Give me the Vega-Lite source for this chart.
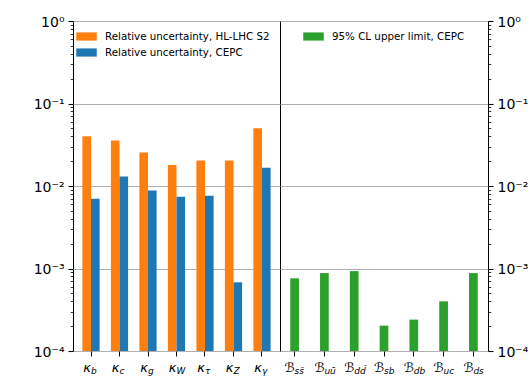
{
  "$schema": "https://vega.github.io/schema/vega-lite/v6.json",
  "autosize": {"type": "pad"},
  "padding": {"left": 32, "top": 14, "right": 0, "bottom": 0},
  "background": "white",
  "spacing": 0,
  "bounds": "flush",
  "config": {
    "font": "DejaVu Sans",
    "view": {"stroke": "black", "strokeWidth": 1},
    "axis": {"labelFont": "DejaVu Sans", "labelColor": "black", "tickColor": "black", "domain": false},
    "legend": {"labelFont": "DejaVu Sans", "labelFontSize": 10.3, "labelColor": "black", "labelLimit": 0, "symbolType": "M-1,-0.4H1V0.4H-1Z", "symbolSize": 420, "symbolStrokeWidth": 0, "symbolOpacity": 1, "padding": 0, "rowPadding": -1.3, "labelOffset": 8, "orient": "none"}
  },
  "datasets": {
    "kappa": [
      {"name": "κ_b", "main": "κ", "sub": "b", "series": "Relative uncertainty, HL-LHC S2", "value": 0.04},
      {"name": "κ_b", "main": "κ", "sub": "b", "series": "Relative uncertainty, CEPC", "value": 0.0070},
      {"name": "κ_c", "main": "κ", "sub": "c", "series": "Relative uncertainty, HL-LHC S2", "value": 0.0355},
      {"name": "κ_c", "main": "κ", "sub": "c", "series": "Relative uncertainty, CEPC", "value": 0.013},
      {"name": "κ_g", "main": "κ", "sub": "g", "series": "Relative uncertainty, HL-LHC S2", "value": 0.0255},
      {"name": "κ_g", "main": "κ", "sub": "g", "series": "Relative uncertainty, CEPC", "value": 0.0088},
      {"name": "κ_W", "main": "κ", "sub": "W", "series": "Relative uncertainty, HL-LHC S2", "value": 0.018},
      {"name": "κ_W", "main": "κ", "sub": "W", "series": "Relative uncertainty, CEPC", "value": 0.0074},
      {"name": "κ_τ", "main": "κ", "sub": "τ", "series": "Relative uncertainty, HL-LHC S2", "value": 0.0204},
      {"name": "κ_τ", "main": "κ", "sub": "τ", "series": "Relative uncertainty, CEPC", "value": 0.0076},
      {"name": "κ_Z", "main": "κ", "sub": "Z", "series": "Relative uncertainty, HL-LHC S2", "value": 0.0204},
      {"name": "κ_Z", "main": "κ", "sub": "Z", "series": "Relative uncertainty, CEPC", "value": 0.00068},
      {"name": "κ_γ", "main": "κ", "sub": "γ", "series": "Relative uncertainty, HL-LHC S2", "value": 0.05},
      {"name": "κ_γ", "main": "κ", "sub": "γ", "series": "Relative uncertainty, CEPC", "value": 0.0167}
    ],
    "branching": [
      {"name": "B_ss", "main": "ℬ", "sub": "ss\u0304", "series": "95% CL upper limit, CEPC", "value": 0.00076},
      {"name": "B_uu", "main": "ℬ", "sub": "uu\u0304", "series": "95% CL upper limit, CEPC", "value": 0.00088},
      {"name": "B_dd", "main": "ℬ", "sub": "dd\u0304", "series": "95% CL upper limit, CEPC", "value": 0.00093},
      {"name": "B_sb", "main": "ℬ", "sub": "sb", "series": "95% CL upper limit, CEPC", "value": 0.000203},
      {"name": "B_db", "main": "ℬ", "sub": "db", "series": "95% CL upper limit, CEPC", "value": 0.00024},
      {"name": "B_uc", "main": "ℬ", "sub": "uc", "series": "95% CL upper limit, CEPC", "value": 0.0004},
      {"name": "B_ds", "main": "ℬ", "sub": "ds", "series": "95% CL upper limit, CEPC", "value": 0.00088}
    ]
  },
  "resolve": {"scale": {"color": "independent"}, "legend": {"color": "independent"}},
  "hconcat": [
    {
      "width": 207,
      "height": 330,
      "data": {"name": "kappa"},
      "layer": [
        {
          "mark": {"type": "bar"},
          "encoding": {
            "x": {"field": "name", "type": "nominal", "sort": null,
                  "scale": {"type": "band", "paddingInner": 0.396, "paddingOuter": 0.33},
                  "axis": {"title": null, "labels": false, "domain": false, "ticks": true, "tickSize": 5, "tickWidth": 1, "grid": false}},
            "xOffset": {"field": "series", "type": "nominal", "sort": ["Relative uncertainty, HL-LHC S2", "Relative uncertainty, CEPC"]},
            "y": {"field": "value", "type": "quantitative",
                  "scale": {"type": "log", "domain": [0.0001, 1], "nice": false},
                  "axis": {"orient": "left", "title": null,
                           "values": [0.0001,0.0002,0.0003,0.0004,0.0005,0.0006,0.0007,0.0008,0.0009,0.001,0.002,0.003,0.004,0.005,0.006,0.007,0.008,0.009,0.01,0.02,0.03,0.04,0.05,0.06,0.07,0.08,0.09,0.1,0.2,0.3,0.4,0.5,0.6,0.7,0.8,0.9,1],
                           "labelExpr": "abs(log(datum.value)/LN10 - round(log(datum.value)/LN10)) < 0.001 ? ['10⁻⁴','10⁻³','10⁻²','10⁻¹','10⁰'][round(log(datum.value)/LN10)+4] : ''",
                           "labelFontSize": 14, "labelPadding": 4, "labelOffset": 1, "labelOverlap": false,
                           "tickSize": {"condition": {"test": "abs(log(datum.value)/LN10 - round(log(datum.value)/LN10)) < 0.001", "value": 5}, "value": 2.8},
                           "tickWidth": {"condition": {"test": "abs(log(datum.value)/LN10 - round(log(datum.value)/LN10)) < 0.001", "value": 1.1}, "value": 0.8},
                           "grid": true, "gridColor": "#b0b0b0", "gridWidth": 1.1,
                           "gridOpacity": {"condition": {"test": "abs(log(datum.value)/LN10 - round(log(datum.value)/LN10)) < 0.001", "value": 1}, "value": 0}}},
            "y2": {"datum": 0.0001},
            "color": {"field": "series", "type": "nominal",
                      "scale": {"domain": ["Relative uncertainty, HL-LHC S2", "Relative uncertainty, CEPC"], "range": ["#ff7f0e", "#1f77b4"]},
                      "legend": {"title": null, "orient": "none", "legendX": 3, "legendY": 5}}
          }
        },
        {
          "transform": [{"filter": "datum.series === 'Relative uncertainty, HL-LHC S2'"}],
          "mark": {"type": "text", "align": "right", "baseline": "alphabetic", "dy": 20.5, "fontSize": 13, "fontStyle": "italic", "color": "black"},
          "encoding": {
            "x": {"field": "name", "type": "nominal", "sort": null},
            "y": {"datum": 0.0001, "type": "quantitative"},
            "text": {"field": "main"}
          }
        },
        {
          "transform": [{"filter": "datum.series === 'Relative uncertainty, HL-LHC S2'"}],
          "mark": {"type": "text", "align": "left", "baseline": "alphabetic", "dy": 22.5, "fontSize": 9, "fontStyle": "italic", "color": "black"},
          "encoding": {
            "x": {"field": "name", "type": "nominal", "sort": null},
            "y": {"datum": 0.0001, "type": "quantitative"},
            "text": {"field": "sub"}
          }
        }
      ]
    },
    {
      "width": 208,
      "height": 330,
      "data": {"name": "branching"},
      "layer": [
        {
          "mark": {"type": "bar"},
          "encoding": {
            "x": {"field": "name", "type": "nominal", "sort": null,
                  "scale": {"type": "band", "paddingInner": 0.708, "paddingOuter": 0.344},
                  "axis": {"title": null, "labels": false, "domain": false, "ticks": true, "tickSize": 5, "tickWidth": 1, "grid": false}},
            "y": {"field": "value", "type": "quantitative",
                  "scale": {"type": "log", "domain": [0.0001, 1], "nice": false},
                  "axis": {"orient": "right", "title": null,
                           "values": [0.0001,0.0002,0.0003,0.0004,0.0005,0.0006,0.0007,0.0008,0.0009,0.001,0.002,0.003,0.004,0.005,0.006,0.007,0.008,0.009,0.01,0.02,0.03,0.04,0.05,0.06,0.07,0.08,0.09,0.1,0.2,0.3,0.4,0.5,0.6,0.7,0.8,0.9,1],
                           "labelExpr": "abs(log(datum.value)/LN10 - round(log(datum.value)/LN10)) < 0.001 ? ['10⁻⁴','10⁻³','10⁻²','10⁻¹','10⁰'][round(log(datum.value)/LN10)+4] : ''",
                           "labelFontSize": 14, "labelPadding": 4, "labelOffset": 1, "labelOverlap": false,
                           "tickSize": {"condition": {"test": "abs(log(datum.value)/LN10 - round(log(datum.value)/LN10)) < 0.001", "value": 5}, "value": 2.8},
                           "tickWidth": {"condition": {"test": "abs(log(datum.value)/LN10 - round(log(datum.value)/LN10)) < 0.001", "value": 1.1}, "value": 0.8},
                           "grid": true, "gridColor": "#b0b0b0", "gridWidth": 1.1,
                           "gridOpacity": {"condition": {"test": "abs(log(datum.value)/LN10 - round(log(datum.value)/LN10)) < 0.001", "value": 1}, "value": 0}}},
            "y2": {"datum": 0.0001},
            "color": {"field": "series", "type": "nominal",
                      "scale": {"domain": ["95% CL upper limit, CEPC"], "range": ["#2ca02c"]},
                      "legend": {"title": null, "orient": "none", "legendX": 23, "legendY": 5}}
          }
        },
        {
          "mark": {"type": "text", "align": "right", "baseline": "alphabetic", "dy": 20.5, "fontSize": 13, "color": "black"},
          "encoding": {
            "x": {"field": "name", "type": "nominal", "sort": null},
            "y": {"datum": 0.0001, "type": "quantitative"},
            "text": {"field": "main"}
          }
        },
        {
          "mark": {"type": "text", "align": "left", "baseline": "alphabetic", "dy": 22.5, "fontSize": 9, "fontStyle": "italic", "color": "black"},
          "encoding": {
            "x": {"field": "name", "type": "nominal", "sort": null},
            "y": {"datum": 0.0001, "type": "quantitative"},
            "text": {"field": "sub"}
          }
        }
      ]
    }
  ]
}
